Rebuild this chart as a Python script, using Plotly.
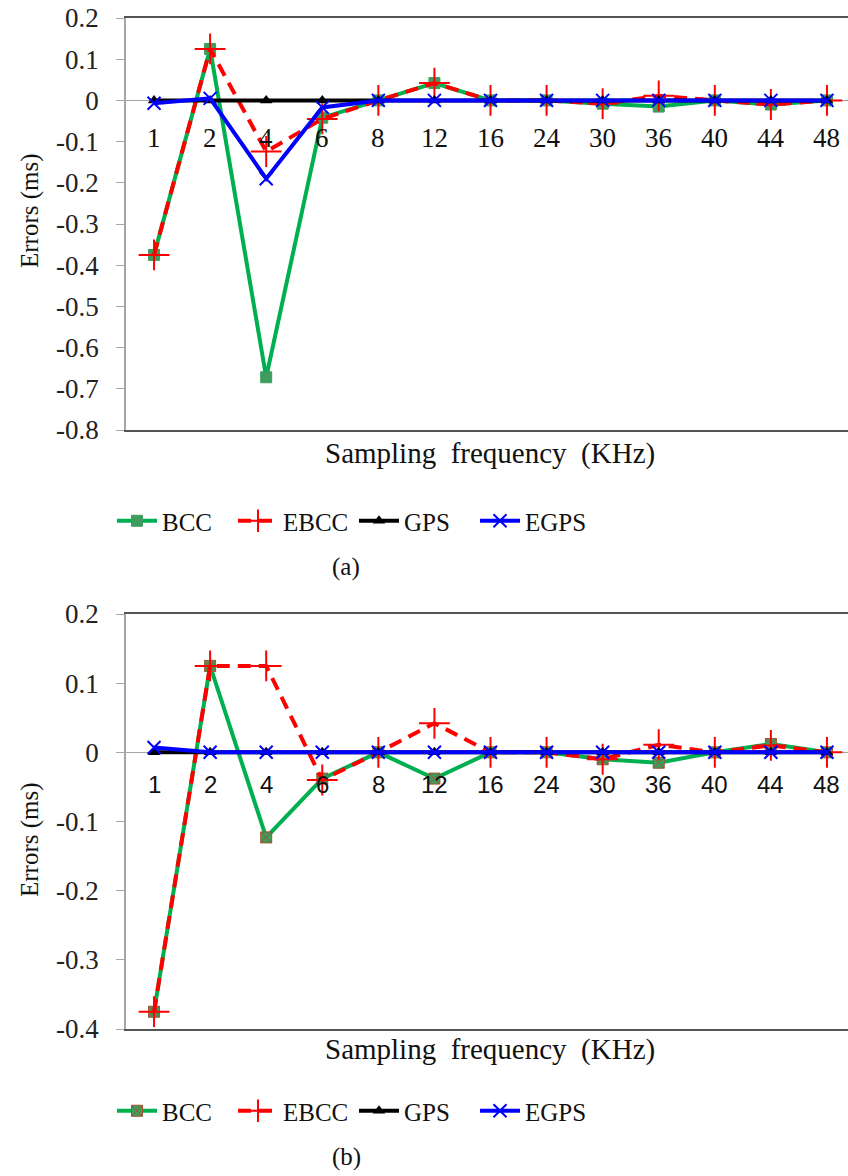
import plotly.graph_objects as go

# Sampling frequencies (KHz), shown as evenly spaced categories
freqs = ["1", "2", "4", "6", "8", "12", "16", "24", "30", "36", "40", "44", "48"]

# (a) timing errors in ms
bcc_a = [-0.375, 0.125, -0.672, -0.042, 0.0, 0.042, 0.0, 0.0, -0.008, -0.015, 0.0, -0.01, 0.0]
ebcc_a = [-0.375, 0.125, -0.124, -0.045, 0.0, 0.042, 0.0, 0.0, -0.008, 0.011, 0.0, -0.01, 0.0]
gps_a = [0.0] * 13
egps_a = [-0.007, 0.005, -0.19, -0.017, 0.0, 0.0, 0.0, 0.0, 0.0, 0.0, 0.0, 0.0, 0.0]

# (b) timing errors in ms
bcc_b = [-0.375, 0.125, -0.123, -0.038, 0.0, -0.038, 0.0, 0.0, -0.01, -0.015, 0.0, 0.012, 0.0]
ebcc_b = [-0.375, 0.125, 0.125, -0.04, 0.0, 0.042, 0.0, 0.0, -0.01, 0.011, 0.0, 0.01, 0.0]
gps_b = [0.0] * 13
egps_b = [0.007, 0.0, 0.0, 0.0, 0.0, 0.0, 0.0, 0.0, 0.0, 0.0, 0.0, 0.0, 0.0]

yticks_a = [0.2, 0.1, 0.0, -0.1, -0.2, -0.3, -0.4, -0.5, -0.6, -0.7, -0.8]
yticktext_a = ["0.2", "0.1", "0", "-0.1", "-0.2", "-0.3", "-0.4", "-0.5", "-0.6", "-0.7", "-0.8"]
yticks_b = [0.2, 0.1, 0.0, -0.1, -0.2, -0.3, -0.4]
yticktext_b = ["0.2", "0.1", "0", "-0.1", "-0.2", "-0.3", "-0.4"]

W, H = 848, 1176
SERIF = "Liberation Serif, Times New Roman, serif"
SANS = "Liberation Sans, Arial, sans-serif"
GREEN, RED, BLACK, BLUE = "#00B050", "#FF0000", "#000000", "#0000FF"

xs = list(range(len(freqs)))
fig = go.Figure()


def add_panel(bcc, ebcc, gps, egps, xa, ya, legend, bcc_symbol, bcc_mark_line):
    fig.add_trace(go.Scatter(
        x=xs, y=bcc, name="BCC", mode="lines+markers", xaxis=xa, yaxis=ya, legend=legend,
        line=dict(color=GREEN, width=4),
        marker=dict(symbol=bcc_symbol, size=11, color="#3E9D5E",
                    line=dict(color=bcc_mark_line, width=1))))
    fig.add_trace(go.Scatter(
        x=xs, y=ebcc, name="EBCC", mode="lines+markers", xaxis=xa, yaxis=ya, legend=legend,
        line=dict(color=RED, width=4, dash="13px,8px"),
        marker=dict(symbol="cross-thin", size=22, color=RED, line=dict(color=RED, width=2))))
    fig.add_trace(go.Scatter(
        x=xs, y=gps, name="GPS", mode="lines+markers", xaxis=xa, yaxis=ya, legend=legend,
        line=dict(color=BLACK, width=4),
        marker=dict(symbol="triangle-up", size=11, color=BLACK)))
    fig.add_trace(go.Scatter(
        x=xs, y=egps, name="EGPS", mode="lines+markers", xaxis=xa, yaxis=ya, legend=legend,
        line=dict(color=BLUE, width=4),
        marker=dict(symbol="x-thin", size=13, color=BLUE, line=dict(color=BLUE, width=2))))


add_panel(bcc_a, ebcc_a, gps_a, egps_a, "x", "y", "legend", "square", "#3E9D5E")
add_panel(bcc_b, ebcc_b, gps_b, egps_b, "x2", "y2", "legend2", "square-x", "#A0522D")

dom_x = [126 / W, 1.0]
dom_a = [1 - 430 / H, 1 - 18 / H]
dom_b = [1 - 1029 / H, 1 - 614 / H]
xrange = [-0.5, (W - 154) / 56.08]

xaxis_common = dict(range=xrange, domain=dom_x, showticklabels=False, ticks="",
                    showgrid=False, zeroline=False, showline=True, linecolor="#555555",
                    linewidth=1.5, mirror=True, fixedrange=True, automargin=False)
yaxis_common = dict(showgrid=False, zeroline=True, zerolinecolor="#A6A6A6", zerolinewidth=1,
                    showline=True, linecolor="#A6A6A6", linewidth=1.5, ticks="outside",
                    ticklen=8, tickcolor="#A6A6A6", ticklabelstandoff=12, automargin=False,
                    tickfont=dict(family=SERIF, size=27, color="#222222"))

legend_common = dict(orientation="h", x=112 / W, xanchor="left", yanchor="middle",
                     font=dict(family=SERIF, size=25, color="#111111"),
                     itemwidth=40, entrywidth=66, entrywidthmode="pixels",
                     bgcolor="rgba(0,0,0,0)")

fig.update_layout(
    width=W, height=H, margin=dict(l=0, r=0, t=0, b=0, autoexpand=False),
    paper_bgcolor="white", plot_bgcolor="white",
    xaxis=dict(**xaxis_common, anchor="y"),
    xaxis2=dict(**xaxis_common, anchor="y2"),
    yaxis=dict(**yaxis_common, domain=dom_a, range=[-0.8, 0.2], tickvals=yticks_a,
               ticktext=yticktext_a, anchor="x"),
    yaxis2=dict(**yaxis_common, domain=dom_b, range=[-0.4, 0.2], tickvals=yticks_b,
                ticktext=yticktext_b, anchor="x2"),
    legend=dict(**legend_common, y=1 - 521 / H),
    legend2=dict(**legend_common, y=1 - 1111 / H),
    showlegend=True,
)

# Category labels sit just under the zero line
for i, f in enumerate(freqs):
    fig.add_annotation(x=i, y=0, xref="x", yref="y", text=f, showarrow=False,
                       yanchor="middle", yshift=-38,
                       font=dict(family=SERIF, size=27, color="#111111"))
    fig.add_annotation(x=i, y=0, xref="x2", yref="y2", text=f, showarrow=False,
                       yanchor="middle", yshift=-32,
                       font=dict(family=SANS, size=24, color="#111111"))

# Axis titles and panel captions
for ycen_title, ycen_x, cap_y, cap in [(211, 453, 567, "(a)"), (840, 1049, 1157, "(b)")]:
    fig.add_annotation(x=30 / W, y=1 - ycen_title / H, xref="paper", yref="paper",
                       text="Errors (ms)", textangle=-90, showarrow=False,
                       xanchor="center", yanchor="middle",
                       font=dict(family=SERIF, size=25, color="#111111"))
    fig.add_annotation(x=490 / W, y=1 - ycen_x / H, xref="paper", yref="paper",
                       text="Sampling  frequency  (KHz)", showarrow=False,
                       xanchor="center", yanchor="middle",
                       font=dict(family=SERIF, size=29, color="#111111"))
    fig.add_annotation(x=346 / W, y=1 - cap_y / H, xref="paper", yref="paper",
                       text=cap, showarrow=False, xanchor="center", yanchor="middle",
                       font=dict(family=SERIF, size=25, color="#111111"))

fig.write_html("out.html")
